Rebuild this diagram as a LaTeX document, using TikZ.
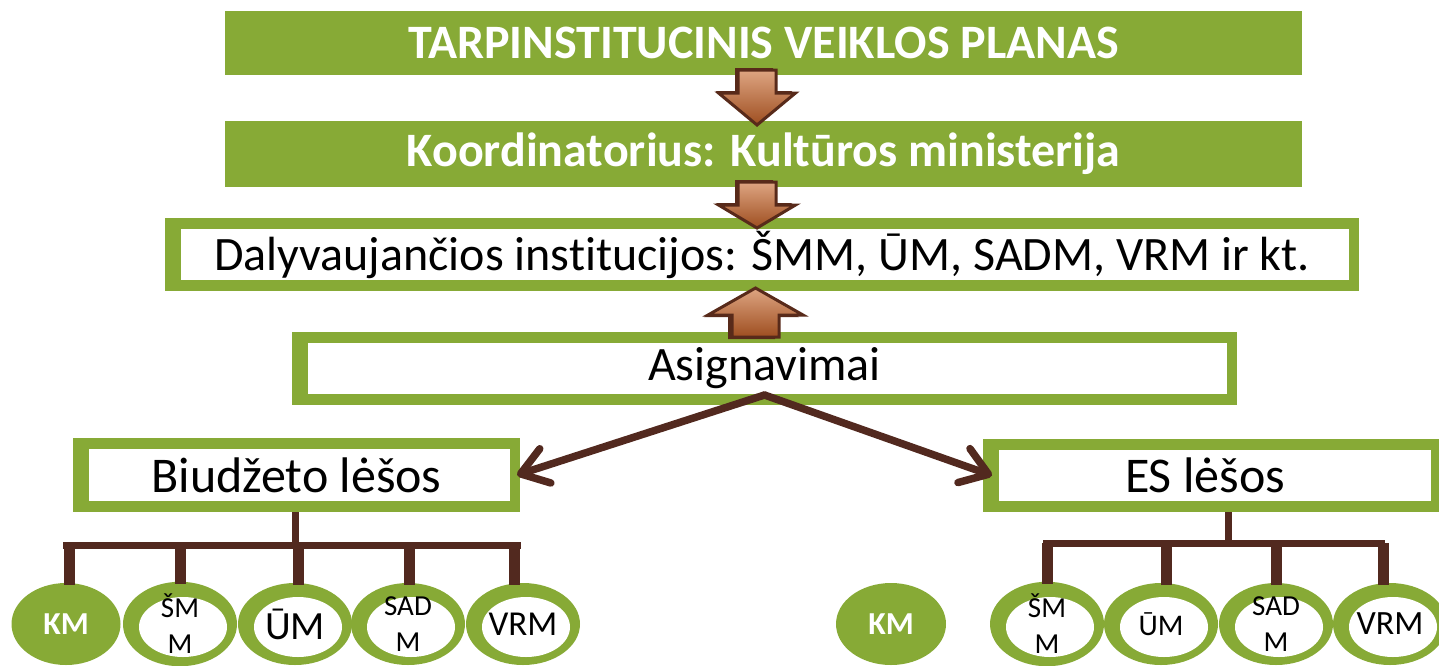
\documentclass[tikz,border=0pt]{standalone}
\usepackage{fontspec}
\setmainfont{Carlito}[Ligatures=NoCommon]
\usetikzlibrary{shapes.geometric,arrows.meta,calc}
\definecolor{gr}{RGB}{135,170,54}
\definecolor{br}{RGB}{82,41,31}
\definecolor{arT}{RGB}{222,165,130}
\definecolor{arB}{RGB}{158,78,32}
\definecolor{arL}{RGB}{88,42,26}
\tikzset{
  solidbox/.style={rectangle, fill=gr, inner sep=0pt, outer sep=0pt, text=white,
    font=\fontsize{24}{28}\selectfont\bfseries},
  framebox/.style={rectangle, fill=gr, inner sep=0pt, outer sep=0pt,
    font=\fontsize{24}{28}\selectfont,
    path picture={\fill[white] ([xshift=8pt,yshift=-5.5pt]path picture bounding box.north west)
      rectangle ([xshift=-5pt,yshift=5.5pt]path picture bounding box.south east);}},
  oval/.style={ellipse, fill=gr, inner sep=0pt, outer sep=0pt, minimum width=57pt,
    minimum height=41pt, align=center, font=\fontsize{14.5}{18}\selectfont,
    path picture={\fill[white] ([xshift=1.5pt,yshift=-1.5pt]path picture bounding box.center)
      ellipse [x radius=22pt, y radius=15pt];}},
  kmoval/.style={ellipse, fill=gr, inner sep=0pt, outer sep=0pt, minimum width=54.5pt,
    minimum height=41pt, text=white, font=\fontsize{16}{18}\selectfont\bfseries},
  conn/.style={br, line width=3.75pt, line cap=round,
    -{Straight Barb[length=13pt, width=18pt, line cap=round, line join=round]}},
  stem/.style={br, line width=3.5pt},
  drop/.style={br, line width=5.5pt},
}
\newcommand{\blockarr}[8]{%
  \fill[arL] ({#1-#5+#7},{#2+#8}) -- ({#1+#5+#7},{#2+#8}) -- ({#1+#5+#7},{#3+#8}) --
    ({#1+#6+#7},{#3+#8}) -- ({#1+#7},{#4+#8}) -- ({#1-#6+#7},{#3+#8}) --
    ({#1-#5+#7},{#3+#8}) -- cycle;
  \draw[arL, line width=1.5pt, line join=miter, top color=arT, bottom color=arB]
    ({#1-#5},#2) -- ({#1+#5},#2) -- ({#1+#5},#3) -- ({#1+#6},#3) -- (#1,#4) --
    ({#1-#6},#3) -- ({#1-#5},#3) -- cycle;}
\begin{document}
\begin{tikzpicture}[x=0.5pt, y=-0.5pt]
\useasboundingbox (0,0) rectangle (1439,665);
% boxes
\node[solidbox, minimum width=538.5pt, minimum height=32pt] (plan) at (763.5,43)
  {TARPINSTITUCINIS VEIKLOS PLANAS};
\node[solidbox, minimum width=538.5pt, minimum height=33pt] (koord) at (763.5,154)
  {Koordinatorius: Kultūros ministerija};
\node[framebox, minimum width=597pt, minimum height=36.5pt] (dal) at (762,254.5)
  {Dalyvaujančios institucijos: ŠMM, ŪM, SADM, VRM ir kt.};
\node[framebox, minimum width=472.5pt, minimum height=36.5pt] (asig) at (764.5,368.5)
  {Asignavimai};
\node[framebox, minimum width=223.5pt, minimum height=37pt, font=\fontsize{25}{28}\selectfont] (biud) at (296.5,475)
  {Biudžeto lėšos};
\node[framebox, minimum width=229pt, minimum height=36.5pt, font=\fontsize{25}{28}\selectfont] (es) at (1212,475.5)
  {\hspace*{-7pt}ES lėšos};
% block arrows
\blockarr{757}{70}{93}{125}{19}{38.5}{-3}{-2}
\blockarr{757}{182}{205}{228}{19}{38.5}{-3}{-2}
\blockarr{755.5}{337}{315}{288}{23.5}{47.5}{-4}{2}
% ellipses left
\node[kmoval] (kmL) at (66,624) {KM};
\node[oval] (smmL) at (180,624) {ŠM\\M};
\node[oval, font=\fontsize{20}{24}\selectfont] (umL) at (295,624) {ŪM};
\node[oval] (sadmL) at (408,624) {SAD\\M};
\node[oval, font=\fontsize{17.5}{20}\selectfont] (vrmL) at (523,624) {VRM};
% ellipses right
\node[kmoval, minimum width=55pt] (kmR) at (891,624) {KM};
\node[oval] (smmR) at (1047,624) {ŠM\\M};
\node[oval, font=\fontsize{15}{18}\selectfont] (umR) at (1161,624) {ŪM};
\node[oval] (sadmR) at (1276,624) {SAD\\M};
\node[oval, font=\fontsize{17}{20}\selectfont] (vrmR) at (1390,624) {VRM};
% connectors from Asignavimai
\coordinate (apex) at ([yshift=5pt]asig.south);
\draw[conn] (apex) -- ([xshift=-1.5pt]biud.east);
\draw[conn] (apex) -- ([xshift=4.5pt]es.west);
% left tree
\coordinate (barL) at (295,545);
\coordinate (dL1) at (69,545);
\coordinate (dL2) at (180,545);
\coordinate (dL3) at (298,545);
\coordinate (dL4) at (409,545);
\coordinate (dL5) at (514,545);
\draw[stem] (barL |- biud.south) -- (barL);
\draw[stem] ([xshift=-3pt]dL1) -- ([xshift=3.5pt]dL5);
\draw[drop] (dL1) -- ([yshift=-1pt]dL1 |- kmL.north);
\draw[drop] (dL2) -- ([yshift=-1pt]dL2 |- smmL.north);
\draw[drop] (dL3) -- ([yshift=-1pt]dL3 |- umL.north);
\draw[drop] (dL4) -- ([yshift=-1pt]dL4 |- sadmL.north);
\draw[drop] (dL5) -- ([yshift=-1pt]dL5 |- vrmL.north);
% right tree
\coordinate (barR) at (1228,543);
\coordinate (dR1) at (1047,543);
\coordinate (dR2) at (1166,543);
\coordinate (dR3) at (1276,543);
\coordinate (dR4) at (1383,543);
\draw[stem] (barR |- es.south) -- (barR);
\draw[stem] ([xshift=-2pt]dR1) -- ([xshift=1pt]dR4);
\draw[drop] (dR1) -- ([yshift=-1pt]dR1 |- smmR.north);
\draw[drop] (dR2) -- ([yshift=-1pt]dR2 |- umR.north);
\draw[drop] (dR3) -- ([yshift=-1pt]dR3 |- sadmR.north);
\draw[drop] (dR4) -- ([yshift=-1pt]dR4 |- vrmR.north);
\end{tikzpicture}
\end{document}
